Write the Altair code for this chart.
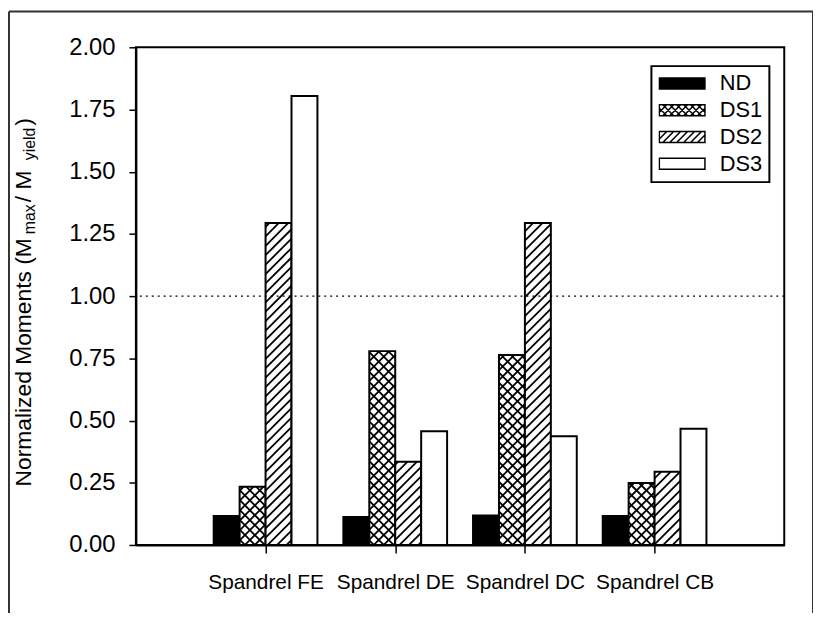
import json
import math

import altair as alt
import pandas as pd

# ---------------- data ----------------
groups = ["Spandrel FE", "Spandrel DE", "Spandrel DC", "Spandrel CB"]
series = ["ND", "DS1", "DS2", "DS3"]
nd = [0.116, 0.112, 0.118, 0.116]
ds1 = [0.234, 0.779, 0.763, 0.249]
ds2 = [1.294, 0.334, 1.294, 0.294]
ds3 = [1.804, 0.457, 0.437, 0.467]
y_ticks = [0.0, 0.25, 0.5, 0.75, 1.0, 1.25, 1.5, 1.75, 2.0]
ref_value = 1.0

values = {"ND": nd, "DS1": ds1, "DS2": ds2, "DS3": ds3}
hatch = {"ND": "", "DS1": "x", "DS2": "/", "DS3": ""}
fills = {"ND": "black", "DS1": "white", "DS2": "white", "DS3": "white"}

FONT = "Liberation Sans"
W, H = 654, 502
X_DOMAIN = [0, len(groups) + 1]
Y_DOMAIN = [0, 2]
sx = W / (X_DOMAIN[1] - X_DOMAIN[0])
sy = H / (Y_DOMAIN[1] - Y_DOMAIN[0])
BAR = 0.2
STEP = {"x": 10.0, "/": 9.5}
HATCH_W = 1.8

rows = []
for gi, g in enumerate(groups):
    center = gi + 1
    for si, s in enumerate(series):
        x0 = center - 2 * BAR + si * BAR
        rows.append(dict(group=g, series=s, x0=x0, x1=x0 + BAR, xc=x0 + BAR / 2,
                         value=values[s][gi], base=0.0))
bars = pd.DataFrame(rows)


def segments(x0, x1, y0, y1, direction, step):
    """Clip hatch lines (pixel space, y up) to a rectangle."""
    out = []
    if direction == "/":
        cmin, cmax = y0 - x1, y1 - x0
        k = math.ceil(cmin / step)
        while k * step <= cmax:
            c = k * step
            lo, hi = max(x0, y0 - c), min(x1, y1 - c)
            if hi - lo > 0.3:
                out.append((lo, lo + c, hi, hi + c))
            k += 1
    else:
        cmin, cmax = x0 + y0, x1 + y1
        k = math.ceil(cmin / step)
        while k * step <= cmax:
            c = k * step
            lo, hi = max(x0, c - y1), min(x1, c - y0)
            if hi - lo > 0.3:
                out.append((lo, c - lo, hi, c - hi))
            k += 1
    return out


def dirs(kind):
    return ["/", "\\"] if kind == "x" else (["/"] if kind == "/" else [])


hrows = []
for r in rows:
    kind = hatch[r["series"]]
    for d in dirs(kind):
        for (ax, ay, bx, by) in segments(r["x0"] * sx, r["x1"] * sx, 0.0, r["value"] * sy, d, STEP[kind]):
            hrows.append(dict(hx0=ax / sx, hy0=ay / sy, hx1=bx / sx, hy1=by / sy))
hatch_df = pd.DataFrame(hrows)

# legend swatch shapes (custom symbol paths, unit = sqrt(size)/2)
SW, SH = 46.0, 11.0
R = SW / 2


def swatch_path(kind):
    hw, hh = SW / 2, SH / 2
    p = f"M{-1:.3f},{-hh / R:.3f}H{1:.3f}V{hh / R:.3f}H{-1:.3f}Z"
    for d in dirs(kind):
        for (ax, ay, bx, by) in segments(-hw, hw, -hh, hh, d, 7.0):
            p += f"M{ax / R:.3f},{-ay / R:.3f}L{bx / R:.3f},{-by / R:.3f}"
    return p


paths = [swatch_path(hatch[s]) for s in series]

# ---------------- chart ----------------
xs = alt.Scale(domain=X_DOMAIN, nice=False, zero=False)
ys = alt.Scale(domain=Y_DOMAIN, nice=False)
label_arr = json.dumps([""] + groups + [""])
x_axis = alt.Axis(values=list(range(1, len(groups) + 1)), labelExpr=f"{label_arr}[datum.value]",
                  title=None, grid=False, tickSize=8, labelPadding=19, labelFlush=False,
                  labelOverlap=False, labelFontSize=21)
y_axis = alt.Axis(values=y_ticks, format=".2f", title=None, grid=False, tickSize=7,
                  labelPadding=14, labelFlush=False, labelOverlap=False, labelFontSize=24)

base = alt.Chart(bars)

bar_layer = base.mark_bar(stroke="black", strokeWidth=2).encode(
    x=alt.X("x0:Q", scale=xs, axis=x_axis),
    x2="x1:Q",
    y=alt.Y("value:Q", scale=ys, axis=y_axis),
    y2="base:Q",
    fill=alt.condition("datum.series == 'ND'", alt.value("black"), alt.value("white")),
)

hatch_layer = alt.Chart(hatch_df).mark_rule(color="black", strokeWidth=HATCH_W).encode(
    x=alt.X("hx0:Q", scale=xs, axis=x_axis),
    x2="hx1:Q",
    y=alt.Y("hy0:Q", scale=ys, axis=y_axis),
    y2="hy1:Q",
)

ref_layer = alt.Chart(pd.DataFrame({"ref": [ref_value]})).mark_rule(
    color="black", strokeWidth=1.5, strokeDash=[2, 4]
).encode(y=alt.Y("ref:Q", scale=ys, axis=y_axis))

legend = alt.Legend(title=None, orient="none", legendX=520, legendY=19,
                    symbolSize=SW * SW, symbolStrokeColor="black", symbolStrokeWidth=1.5,
                    symbolOpacity=1, labelFontSize=22, labelFont=FONT, labelOffset=14,
                    padding=7, rowPadding=4, clipHeight=21, strokeColor="black",
                    labelColor="black")

legend_layer = base.mark_point(filled=True, opacity=0, strokeWidth=1.5).encode(
    x=alt.X("xc:Q", scale=xs, axis=x_axis),
    y=alt.Y("value:Q", scale=ys, axis=y_axis),
    fill=alt.Fill("series:N", scale=alt.Scale(domain=series, range=[fills[s] for s in series]),
                  legend=legend),
    stroke=alt.Stroke("series:N", scale=alt.Scale(domain=series, range=["black"] * len(series)),
                      legend=legend),
    shape=alt.Shape("series:N", scale=alt.Scale(domain=series, range=paths), legend=legend),
)

# y-axis title with subscripts, built from pieces
W_EM = {"N": 722, "o": 556, "r": 333, "m": 833, "a": 556, "l": 222, "i": 222, "z": 500,
        "e": 556, "d": 556, " ": 278, "M": 833, "n": 556, "t": 278, "s": 500, "(": 333,
        ")": 333, "/": 278, "x": 500, "y": 500}


def text_w(s, size):
    return sum(W_EM[c] for c in s) * size / 1000.0


one = pd.DataFrame({"k": [0]})
pieces = [("Normalized Moments (M", 23, 0), ("max", 16, 4), (" / M", 23, 0),
          ("yield", 16, 4), (")", 23, 0)]
title_layers = []
ypos = 443.0
for txt, size, drop in pieces:
    if size < 20:
        ypos -= 4
    title_layers.append(
        alt.Chart(one).mark_text(text=txt, angle=270, align="left", baseline="alphabetic",
                                 fontSize=size, font=FONT, color="black")
        .encode(x=alt.value(-106 + drop), y=alt.value(ypos))
    )
    ypos -= text_w(txt, size)
    if size < 20:
        ypos -= 2

# outer frame of the figure
frame_style = dict(color="#333333", strokeWidth=2)
frame_left = alt.Chart(one).mark_rule(**frame_style).encode(
    x=alt.value(-128), y=alt.value(-36), y2=alt.value(H + 70))
frame_top = alt.Chart(one).mark_rule(**frame_style).encode(
    x=alt.value(-128), x2=alt.value(683), y=alt.value(-36))
frame_right = alt.Chart(one).mark_rule(**frame_style).encode(
    x=alt.value(683), y=alt.value(-36), y2=alt.value(H + 70))

chart = alt.layer(
    bar_layer, hatch_layer, ref_layer, legend_layer, *title_layers,
    frame_left, frame_top, frame_right,
).properties(
    width=W, height=H,
    autosize=alt.AutoSizeParams(type="none"),
    padding={"left": 129, "top": 37, "right": 29, "bottom": 66},
    background="white",
).configure_view(
    stroke="black", strokeWidth=2
).configure_axis(
    domainColor="black", domainWidth=2, tickColor="black", tickWidth=1.5,
    labelColor="black", labelFont=FONT,
).configure_legend(
    strokeWidth=2
)

chart.save("out.html", embed_options={"renderer": "svg", "actions": False})
